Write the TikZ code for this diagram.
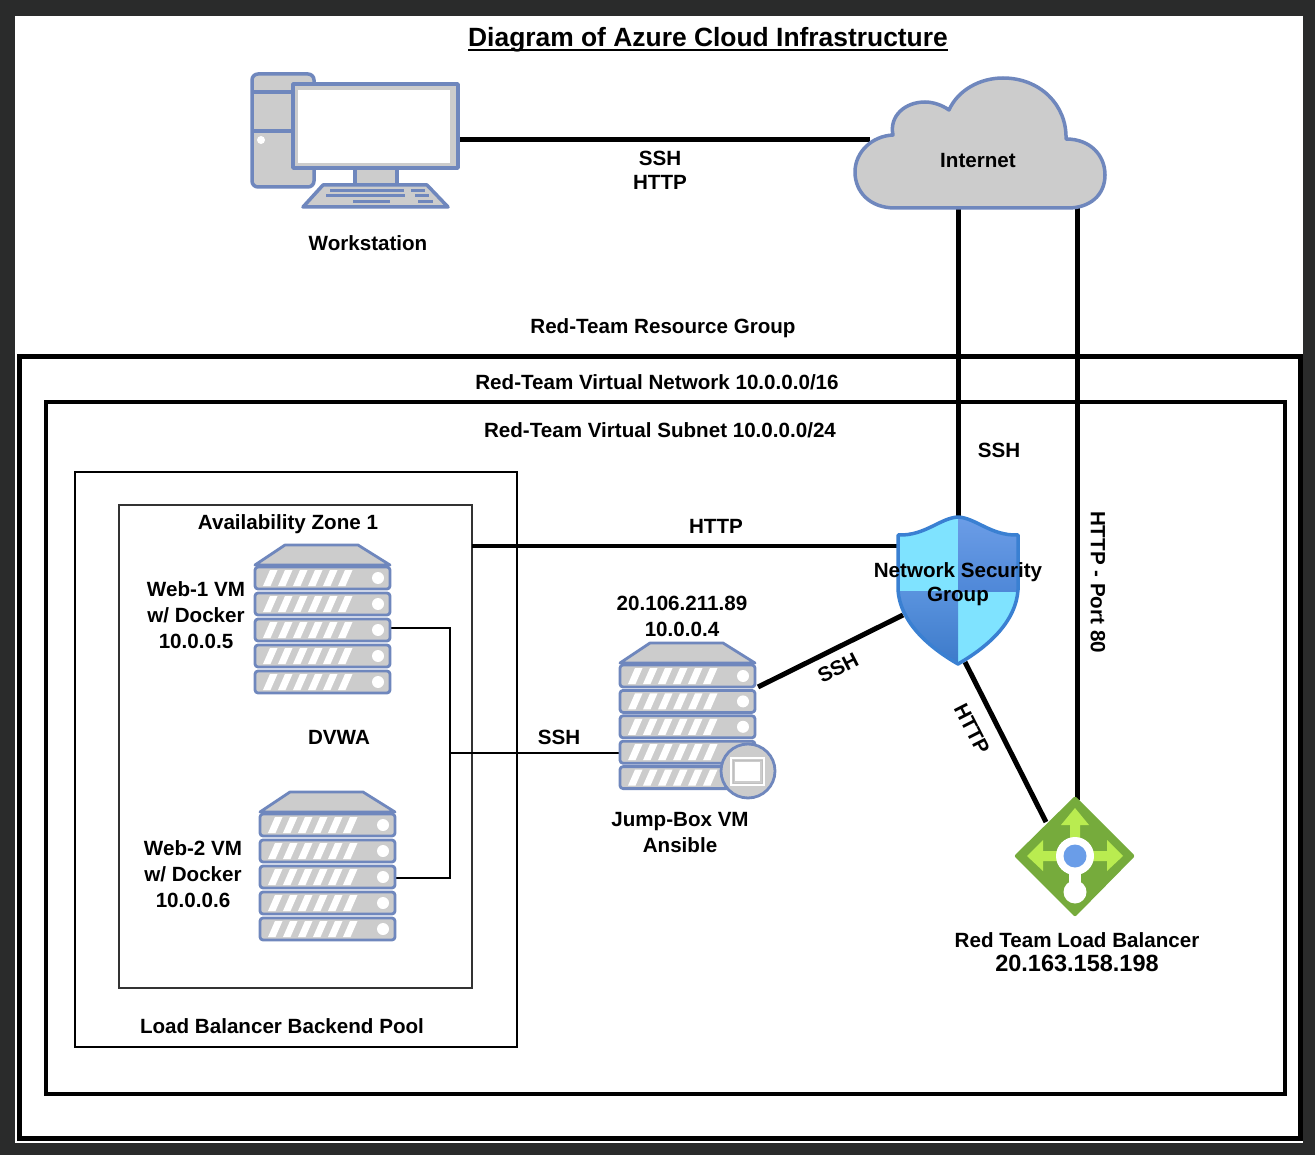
\documentclass[tikz,border=0pt]{standalone}
\usepackage{fontspec}
\setmainfont{Liberation Sans}
\definecolor{edge}{HTML}{6F87BD}
\definecolor{iconfill}{HTML}{CCCCCC}
\definecolor{shieldedge}{HTML}{3A80D2}
\definecolor{shieldlight}{HTML}{7FE3FF}
\definecolor{shieldtopa}{HTML}{6E9FE8}
\definecolor{shieldtopb}{HTML}{4F88D8}
\definecolor{shieldlowa}{HTML}{5A93DE}
\definecolor{shieldlowb}{HTML}{3A78C8}
\definecolor{lbgreen}{HTML}{76AB3C}
\definecolor{lbarrow}{HTML}{B9EC50}
\definecolor{lbblue}{HTML}{6A9DE8}
\definecolor{backdrop}{HTML}{2A2B2B}
\tikzset{
  x=1pt,y=-1pt,
  lbl/.style={font=\bfseries\fontsize{20.6}{24}\selectfont,text=black,inner sep=0pt,align=center},
  lblwide/.style={lbl,font=\bfseries\fontsize{20.6}{26}\selectfont},
  box/.style={inner sep=0pt,outer sep=0pt},
  heavy/.style={draw=black,line width=5pt},
  medium/.style={draw=black,line width=4.5pt},
  thinlink/.style={draw=black,line width=2.5pt},
  icon/.style={draw=edge,fill=iconfill,line width=3.5pt,line join=round},
  keyline/.style={draw=edge,line width=3pt},
}
\newcommand{\serverrow}[3]{%
  \draw[icon,rounded corners=3pt,line width=2.8pt] (#1,#2) rectangle ++(135,22);
  \foreach \s in {0,...,#3}{
    \fill[white] ({#1+8+15*\s},{#2+19}) -- ++(7.5,0) -- ++(7,-16) -- ++(-7.5,0) -- cycle;
  }
  \fill[white] ({#1+123},{#2+11}) circle (6);
}
\newcommand{\serverstack}[3]{%
  \draw[icon,line width=2.8pt] ({#1+30},{#2-22}) -- ({#1+103},{#2-22}) -- ({#1+135},{#2-2}) -- ({#1},{#2-2}) -- cycle;
  \foreach \r in {0,...,4}{
    \serverrow{#1}{#2+\r*#3}{5}
  }
}
\newsavebox{\titlebox}
\begin{document}
\begin{tikzpicture}
\useasboundingbox (0,0) rectangle (1315,1155);
\fill[backdrop] (0,0) rectangle (1315,1155);
\fill[white] (15,16) rectangle (1303,1143);

% containers
\node[box,draw=black,line width=5pt,minimum width=1281pt,minimum height=781pt,anchor=north west] (rg) at (19.5,357) {};
\node[box,draw=black,line width=3.5pt,minimum width=1239pt,minimum height=692pt,anchor=north west] (subnet) at (46,402) {};
\node[box,draw=black,line width=2.5pt,minimum width=442pt,minimum height=575pt,anchor=north west] (pool) at (75,472) {};
\node[box,draw=black!80,line width=1.6pt,minimum width=353pt,minimum height=483pt,anchor=north west] (az) at (119,505) {};

% anchors of the icons
\node[box,minimum width=207pt,minimum height=134pt,anchor=north west] (ws) at (251,73) {};
\coordinate (cloudwest) at (870,140);
\coordinate (cloudssh) at (958,208);
\coordinate (cloudhttp) at (1077,208);
\coordinate (shieldtop) at (958,520);
\coordinate (shieldwest) at (898,546);
\coordinate (shieldsw) at (903,615);
\coordinate (shieldbottom) at (965,662);
\coordinate (lbtop) at (1077,800);
\coordinate (lbnw) at (1046,822);
\coordinate (jumpne) at (758,687);
\coordinate (jumpwest) at (619,753);
\coordinate (azeast) at (472,546);
\coordinate (web1port) at (389,628);
\coordinate (web2port) at (394,878);
\coordinate (bus1) at (450,628);
\coordinate (bus2) at (450,878);
\coordinate (busjoin) at (450,753);

% connectors
\draw[heavy] (ws.east) -- (cloudwest);
\draw[heavy] (cloudssh) -- (shieldtop);
\draw[heavy] (cloudhttp) -- (lbtop);
\draw[medium] (azeast) -- (shieldwest);
\draw[heavy] (jumpne) -- (shieldsw);
\draw[heavy] (shieldbottom) -- (lbnw);
\draw[thinlink] (web1port) -- (bus1) -- (bus2) -- (web2port);
\draw[thinlink] (busjoin) -- (jumpwest);

% workstation
\draw[icon,rounded corners=6pt] (252,74) rectangle (314,187);
\draw[icon] (252,92) -- (293,92) (252,131) -- (293,131);
\fill[white] (261,140) circle (4);
\draw[icon] (355,168) rectangle (397,185);
\draw[icon] (323,185) -- (427,185) -- (448,207) -- (303,207) -- cycle;
\draw[keyline] (330,190.5) -- (404,190.5) (411,190.5) -- (425,190.5)
               (326,196) -- (405,196) (415,196) -- (429,196)
               (353,202) -- (390,202) (418,202) -- (433,202);
\draw[icon] (293,84) rectangle (458,168);
\fill[white] (298,90) rectangle (450,163);

% cloud
\draw[icon,line width=3.5pt]
  (895,208) .. controls (870,208) and (855,192) .. (855,172)
  .. controls (855,152) and (872,136) .. (893,135)
  .. controls (889,116) and (905,102) .. (925,102)
  .. controls (933,102) and (942,105) .. (949,110)
  .. controls (958,90) and (980,78) .. (1003,78)
  .. controls (1040,78) and (1067,105) .. (1066,139)
  .. controls (1090,139) and (1105,155) .. (1105,175)
  .. controls (1105,195) and (1090,208) .. (1068,208)
  -- cycle;

% servers
\serverstack{255}{567}{26}
\serverstack{260}{814}{26}
\serverstack{620}{665}{25.4}
\draw[icon,line width=2.8pt] (748,771) circle (27);
\draw[white,line width=2pt,fill=iconfill] (731,758) rectangle (764,785);
\fill[white] (735,762) rectangle (760,781);
\draw[black!25,line width=1pt] (733,760) rectangle (762,783);

% shield
\def\shieldpath{(958,517) .. controls (940,518) and (925,536) .. (898,535)
  -- (898,590) .. controls (900,620) and (925,645) .. (958,664)
  .. controls (991,645) and (1016,620) .. (1018,590) -- (1018,535)
  .. controls (991,536) and (976,518) .. (958,517) -- cycle}
\begin{scope}
  \clip \shieldpath;
  \fill[shieldlight] (890,510) rectangle (958,591);
  \fill[shieldlight] (958,591) rectangle (1025,670);
  \shade[top color=shieldtopa,bottom color=shieldtopb] (958,510) rectangle (1025,591);
  \shade[top color=shieldlowa,bottom color=shieldlowb] (890,591) rectangle (958,670);
\end{scope}
\draw[shieldedge,line width=3.5pt,line join=round] \shieldpath;

% load balancer
\fill[lbgreen,rounded corners=2pt] (1075,796) -- (1135,856) -- (1075,917) -- (1014,856) -- cycle;
\fill[lbarrow] (1075,808) -- (1089,825) -- (1080,825) -- (1080,851) -- (1107,851) -- (1107,840) -- (1123,856)
  -- (1107,871) -- (1107,861) -- (1043,861) -- (1043,871) -- (1027,856) -- (1043,840) -- (1043,851)
  -- (1070,851) -- (1070,825) -- (1061,825) -- cycle;
\fill[white] (1075,856) circle (19);
\fill[white] (1069,870) rectangle (1081,885);
\fill[white] (1075,892) circle (11.5);
\fill[lbblue] (1075,856) circle (11.5);

% labels
\node[box,anchor=base,text=black] (title) at (708,47) {\sbox{\titlebox}{\bfseries\fontsize{26.4}{30}\selectfont Diagram of Azure Cloud Infrastructure}\rlap{\rule[-4.5pt]{\wd\titlebox}{2pt}}\usebox{\titlebox}};
\node[lbl] (lssh1) at (660,170.5) {SSH\\HTTP};
\node[lbl] (lws) at (368,243) {Workstation};
\node[lbl] (linternet) at (978,161) {Internet};
\node[lbl] (lrg) at (663,328) {Red-Team Resource Group};
\node[lbl] (lvn) at (657,382) {Red-Team Virtual Network 10.0.0.0/16};
\node[lbl] (lsub) at (660,430) {Red-Team Virtual Subnet 10.0.0.0/24};
\node[lbl] (lssh2) at (999,450) {SSH};
\node[lbl] (laz) at (288,524) {Availability Zone 1};
\node[lbl] (lhttp) at (716,526) {HTTP};
\node[lbl] (lnsg) at (958,584) {Network Security\\Group};
\node[lblwide] (lweb1) at (196,615) {Web-1 VM\\w/ Docker\\10.0.0.5};
\node[lblwide] (ljumpip) at (682,616) {20.106.211.89\\10.0.0.4};
\node[lbl] (ldvwa) at (339,737) {DVWA};
\node[lbl] (lssh3) at (559,737) {SSH};
\node[lblwide] (ljump) at (680,833) {Jump-Box VM\\Ansible};
\node[lblwide] (lweb2) at (193,874) {Web-2 VM\\w/ Docker\\10.0.0.6};
\node[lbl] (lpool) at (282,1026) {Load Balancer Backend Pool};
\node[lbl] (llb) at (1077,940) {Red Team Load Balancer};
\node[lbl,font=\bfseries\fontsize{23.5}{26}\selectfont] (llbip) at (1077,963) {20.163.158.198};
\node[lbl,rotate=27] (lssh4) at (838,668) {SSH};
\node[lbl,rotate=-63] (lhttp2) at (972,729) {HTTP};
\node[lbl,rotate=-90] (lport) at (1098,582) {HTTP - Port 80};
\end{tikzpicture}
\end{document}
